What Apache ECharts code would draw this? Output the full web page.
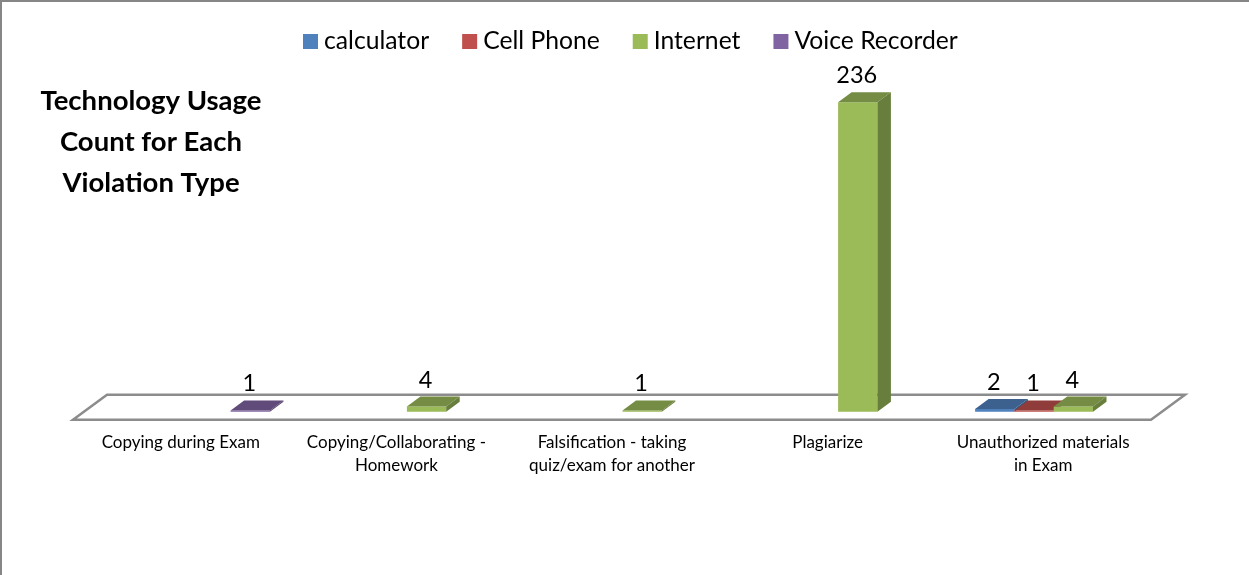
<!DOCTYPE html>
<html>
<head>
<meta charset="utf-8">
<style>
html, body { margin: 0; padding: 0; background: #fff; }
#violationChart { width: 1249px; height: 575px; }
</style>
<script src="https://cdn.jsdelivr.net/npm/echarts@6/dist/echarts.min.js"></script>
</head>
<body>
<div id="violationChart"></div>
<script>
const categories = ["Copying during Exam", "Copying/Collaborating -\nHomework", "Falsification - taking\nquiz/exam for another", "Plagiarize", "Unauthorized materials\nin Exam"];
const seriesNames = ["calculator", "Cell Phone", "Internet", "Voice Recorder"];
const calculator = [null, null, null, null, 2];
const cellPhone = [null, null, null, null, 1];
const internet = [null, 4, 1, 236, 4];
const voiceRecorder = [1, null, null, null, null];
const seriesValues = [calculator, cellPhone, internet, voiceRecorder];

const frontColors = ["#4f81bd", "#c0504d", "#9bbb59", "#8064a2"];
const topColors = ["#3c618e", "#903c3a", "#748c43", "#604b7a"];
const sideColors = ["#355680", "#803534", "#687e3c", "#56436d"];

const fontName = "Lato";
const depthX = 13.5;
const depthY = 10;

// floor of the 3d plot, sits under the bars
function renderFloor(params, api) {
    const box = params.coordSys;
    const frontY = box.y + box.height + 8;
    const backY = frontY - 25;
    const skew = 34;
    return {
        type: 'polygon',
        shape: { points: [
            [box.x, frontY],
            [box.x + skew, backY],
            [box.x + box.width + skew, backY],
            [box.x + box.width, frontY]
        ] },
        style: { fill: '#fff', stroke: '#8c8c8c', lineWidth: 2.5 }
    };
}

// one 3d bar: front, top, side and the number over it
function renderBar(seriesIndex) {
    return function (params, api) {
        const band = api.size([1, 0])[0];
        const barWidth = band * 0.1823;
        const base = api.coord([api.value(0), 0]);
        const top = api.coord([api.value(0), api.value(1)]);
        const x = base[0] + 10.5 + (seriesIndex - 2) * barWidth;
        const x2 = x + barWidth;
        return {
            type: 'group',
            children: [
                { type: 'polygon', shape: { points: [[x, base[1]], [x, top[1]], [x2, top[1]], [x2, base[1]]] }, style: { fill: frontColors[seriesIndex] } },
                { type: 'polygon', shape: { points: [[x, top[1]], [x + depthX, top[1] - depthY], [x2 + depthX, top[1] - depthY], [x2, top[1]]] }, style: { fill: topColors[seriesIndex] } },
                { type: 'polygon', shape: { points: [[x2, base[1]], [x2, top[1]], [x2 + depthX, top[1] - depthY], [x2 + depthX, base[1] - depthY]] }, style: { fill: sideColors[seriesIndex] } },
                { type: 'text', style: { text: String(api.value(1)), x: (x + x2) / 2 - 1, y: top[1] - 26.5, align: 'center', verticalAlign: 'middle', fontFamily: fontName, fontSize: 23.5, fill: '#000' } }
            ]
        };
    };
}

const violationChart = echarts.init(document.getElementById('violationChart'), null, { renderer: 'canvas' });

const barSeries = seriesNames.map((name, s) => ({
    name: name,
    type: 'custom',
    renderItem: renderBar(s),
    itemStyle: { color: frontColors[s] },
    encode: { x: 0, y: 1 },
    data: seriesValues[s].map((v, i) => [i, v]).filter(d => d[1] !== null)
}));

violationChart.setOption({
    animation: false,
    backgroundColor: '#fff',
    title: {
        text: "Technology Usage\nCount for Each\nViolation Type",
        left: 146,
        top: 76,
        textAlign: 'center',
        textStyle: { fontFamily: fontName, fontSize: 27.5, fontWeight: 'bold', color: '#000', lineHeight: 41 }
    },
    legend: {
        data: seriesNames,
        left: 298,
        top: 24,
        icon: 'rect',
        itemWidth: 15,
        itemHeight: 15,
        itemGap: 33,
        textStyle: { fontFamily: fontName, fontSize: 24.7, color: '#000', padding: [0, 0, 0, 1] }
    },
    grid: { left: 73, right: 98, top: 96.9, bottom: 163.3 },
    xAxis: {
        type: 'category',
        data: categories,
        axisLine: { show: false },
        axisTick: { show: false },
        axisLabel: { interval: 0, margin: 19, fontFamily: fontName, fontSize: 17, color: '#000', lineHeight: 23 }
    },
    yAxis: { type: 'value', min: 0, max: 240, show: false },
    graphic: [
        { type: 'rect', shape: { x: 0, y: 0, width: 1249, height: 2 }, style: { fill: '#868686' } },
        { type: 'rect', shape: { x: 0, y: 0, width: 2, height: 575 }, style: { fill: '#868686' } }
    ],
    series: [{
        type: 'custom',
        name: 'floor',
        renderItem: renderFloor,
        silent: true,
        data: [[0, 0]]
    }].concat(barSeries)
});
</script>
</body>
</html>
